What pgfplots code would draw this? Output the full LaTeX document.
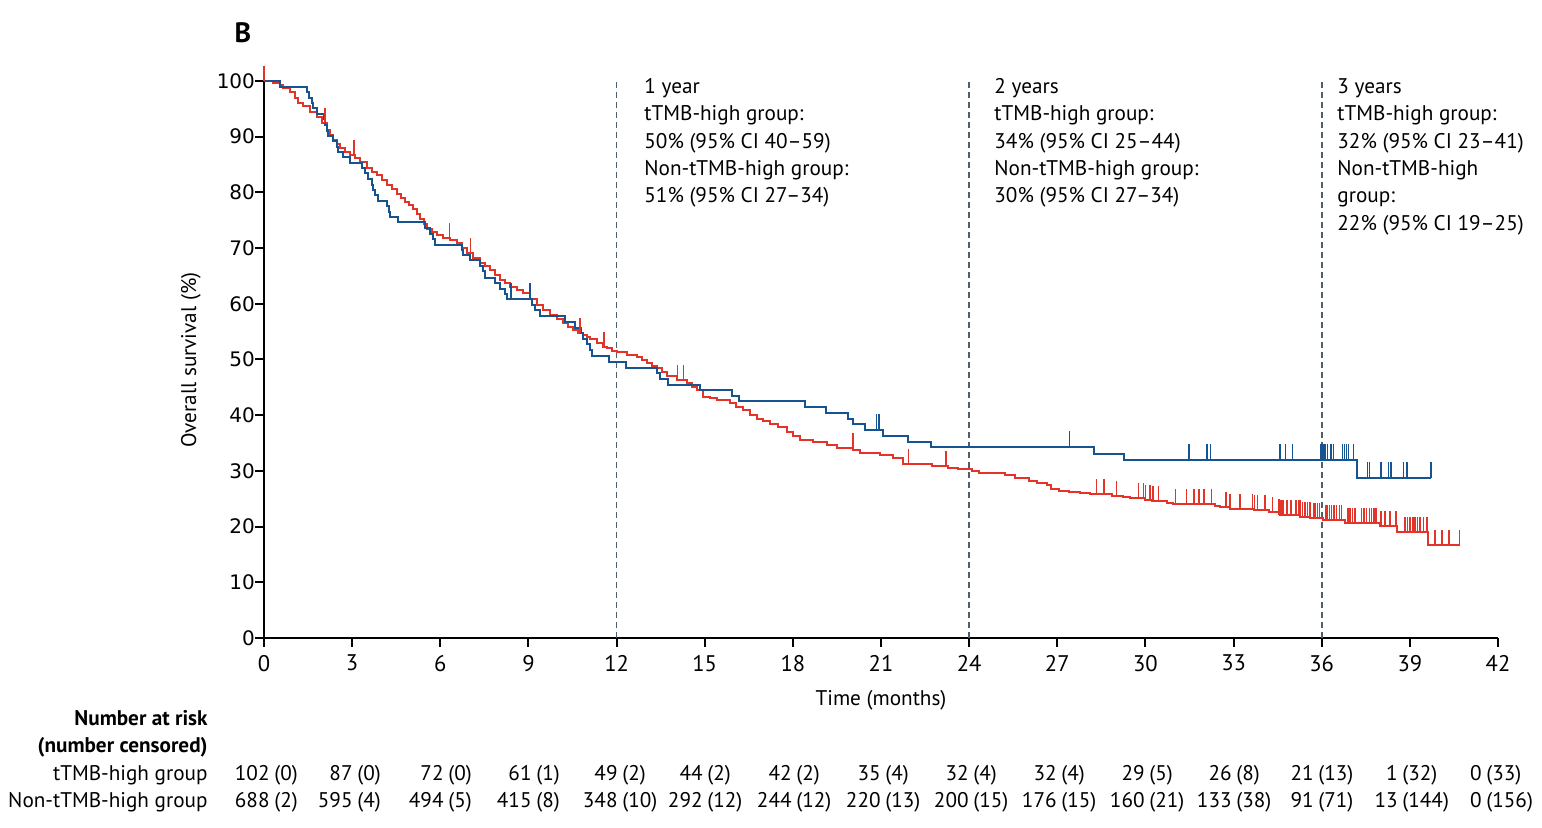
\documentclass[border=0pt]{standalone}
\usepackage{pgfplots}
\pgfplotsset{compat=1.18}
\usepackage{fontspec}
\setmainfont{PT Sans}
\newfontfamily\dejavu{DejaVu Sans}
\definecolor{kmblue}{RGB}{22,84,145}
\definecolor{kmred}{RGB}{228,52,42}
\definecolor{dashgrey}{RGB}{80,94,104}
\pgfdeclareplotmark{censr}{\pgfpathmoveto{\pgfpointorigin}\pgfpathlineto{\pgfpoint{0pt}{7.5pt}}\pgfusepathqstroke}
\pgfdeclareplotmark{censb}{\pgfpathmoveto{\pgfpointorigin}\pgfpathlineto{\pgfpoint{0pt}{8pt}}\pgfusepathqstroke}
\begin{document}
\begin{tikzpicture}
\path[use as bounding box] (0pt,0pt) rectangle (771pt,414pt);
\begin{axis}[
  at={(132pt,95pt)}, anchor=south west,
  scale only axis, width=617pt, height=278.5pt,
  xmin=0, xmax=42, ymin=0, ymax=100,
  axis x line=bottom, axis y line=left,
  axis line style={-, line width=1pt, black},
  xtick={0,3,...,42}, ytick={0,10,...,100},
  tick align=outside, major tick length=4.5pt,
  tick style={line width=1pt, black},
  /pgf/number format/assume math mode=true,
  xticklabel style={font=\fontsize{11.3}{12}\selectfont, yshift=-0.5pt},
  yticklabel style={font=\dejavu\fontsize{10}{11}\selectfont, xshift=3.5pt},
  clip=false,
]
% dashed landmark lines
\addplot[dashgrey, line width=0.9pt, dash pattern=on 3pt off 2pt] coordinates {(12,0) (12,100.5)};
\addplot[dashgrey, line width=0.9pt, dash pattern=on 3pt off 2pt] coordinates {(24,0) (24,100.5)};
\addplot[dashgrey, line width=0.9pt, dash pattern=on 3pt off 2pt] coordinates {(36,0) (36,100.5)};
% Non-tTMB-high group (red)
\addplot[kmred, line width=1pt, const plot, mark=none] coordinates {
(0,100) (0.3,99.6) (0.54,99.3) (0.66,98.7) (0.88,98.1) (1.06,96.9) (1.17,96.0) (1.34,95.5)
(1.57,94.5) (1.79,93.6) (1.96,92.4) (2.13,91.2) (2.25,90.3) (2.36,89.4) (2.48,88.6) (2.59,87.9)
(2.75,87.3) (2.93,86.7) (3.10,86.1) (3.27,85.5) (3.50,84.3) (3.67,83.7) (3.84,83.1) (4.01,82.2)
(4.18,81.3) (4.35,80.6) (4.52,79.8) (4.66,79.0) (4.80,78.3) (4.94,77.7) (5.08,77.1) (5.20,76.2)
(5.31,75.3) (5.43,74.4) (5.54,73.5) (5.71,72.9) (5.88,72.4) (6.10,71.9) (6.33,71.5) (6.56,70.9)
(6.73,70.0) (6.90,69.1) (7.12,68.2) (7.35,67.3) (7.52,66.7) (7.69,66.1) (7.86,65.2) (8.03,64.3)
(8.20,63.7) (8.37,63.1) (8.60,62.5) (8.83,61.9) (9.05,60.8) (9.28,59.8) (9.50,58.9) (9.73,58.0)
(9.96,57.2) (10.19,56.5) (10.36,55.9) (10.53,55.3) (10.70,54.8) (10.87,54.4) (10.98,54.1) (11.10,53.6)
(11.32,52.9) (11.55,52.3) (11.66,52.0) (11.83,51.6) (12.0,51.3) (12.35,50.8) (12.69,50.5) (12.85,49.9)
(13.03,49.3) (13.20,48.8) (13.37,48.4) (13.54,47.7) (13.71,47.0) (14.05,46.4) (14.39,45.7) (14.56,45.1)
(14.73,44.5) (14.95,43.3) (15.18,43.0) (15.41,42.7) (15.86,42.1) (16.08,41.5) (16.31,40.9) (16.54,40.1)
(16.77,39.4) (17.00,38.9) (17.22,38.5) (17.50,37.8) (17.79,37.0) (18.00,36.3) (18.24,35.5) (18.70,35.2)
(19.15,34.6) (19.49,34.1) (20.06,33.8) (20.29,33.2) (20.97,32.9) (21.42,32.3) (21.76,31.2) (22.73,30.9)
(23.27,30.6) (23.61,30.3) (24.08,30.0) (24.35,29.7) (25.23,29.3) (25.57,28.8) (26.04,28.2) (26.31,27.9)
(26.65,27.5) (26.79,26.7) (27.06,26.4) (27.40,26.2) (27.77,26.1) (27.86,26.0) (28.11,25.8) (28.85,25.5)
(29.25,25.4) (29.48,25.2) (29.59,25.1) (29.99,24.8) (30.22,24.6) (30.75,24.3) (30.95,24.0) (32.37,23.7)
(32.54,23.5) (32.88,23.2) (33.68,23.0) (34.19,22.7) (34.53,22.3) (34.58,22.0) (35.27,21.7) (35.61,21.5)
(36.06,21.2) (36.57,21.1) (36.80,20.7) (37.99,20.1) (38.55,19.0) (39.63,16.7) (40.69,16.7)
};
\addplot[kmred, line width=0.75pt, only marks, mark=censr] coordinates {
(0,100) (2.08,92.4) (3.06,86.7) (6.31,71.9) (7.03,69.1) (10.76,54.8) (11.57,52.3) (14.07,46.4) (14.27,46.4)
(20.04,34.1) (21.93,31.2) (23.21,30.9) (28.34,25.8) (28.59,25.8) (29.02,25.5) (29.76,25.1) (29.93,25.1)
(30.00,24.8) (30.16,24.8) (30.25,24.6) (30.45,24.6) (31.03,24.0) (31.40,24.0) (31.65,24.0) (31.83,24.0)
(31.99,24.0) (32.25,24.0) (32.74,23.5) (32.88,23.2) (33.22,23.2) (33.65,23.2) (33.71,23.0) (33.82,23.0)
(34.07,23.0) (34.32,22.7) (34.55,22.3) (34.62,22.0) (34.69,22.0) (34.81,22.0) (34.95,22.0) (35.12,22.0)
(35.21,22.0) (35.26,22.0) (35.35,21.7) (35.43,21.7) (35.51,21.7) (35.60,21.7) (35.72,21.5) (35.77,21.5)
(35.85,21.5) (35.92,21.5) (36.14,21.2) (36.19,21.2) (36.26,21.2) (36.34,21.2) (36.42,21.2) (36.51,21.2)
(36.60,21.1) (36.68,21.1) (36.89,20.7) (36.96,20.7) (37.04,20.7) (37.13,20.7) (37.36,20.7) (37.44,20.7)
(37.53,20.7) (37.62,20.7) (37.70,20.7) (37.78,20.7) (37.85,20.7) (38.01,20.1) (38.16,20.1) (38.33,20.1)
(38.53,20.1) (38.84,19.0) (38.92,19.0) (39.01,19.0) (39.10,19.0) (39.18,19.0) (39.26,19.0) (39.35,19.0)
(39.46,19.0) (39.58,19.0) (39.86,16.7) (40.09,16.7) (40.34,16.7) (40.69,16.7)
};
% tTMB-high group (blue)
\addplot[kmblue, line width=1pt, const plot, mark=none] coordinates {
(0,100) (0.54,99.0) (1.45,98.0) (1.54,97.0) (1.62,96.0) (1.68,95.1) (1.79,94.1) (2.04,93.1)
(2.08,92.1) (2.13,91.1) (2.19,90.2) (2.36,89.2) (2.47,88.2) (2.53,87.3) (2.70,86.3) (2.93,85.3)
(3.32,84.4) (3.44,83.4) (3.55,82.4) (3.66,81.4) (3.72,80.4) (3.78,79.5) (3.89,78.5) (4.18,77.5)
(4.24,76.5) (4.29,75.6) (4.57,74.6) (5.48,73.6) (5.65,72.6) (5.76,71.6) (5.82,70.6) (6.73,69.7)
(6.78,68.7) (7.01,67.8) (7.35,66.8) (7.47,65.8) (7.52,64.7) (7.86,63.7) (8.03,62.7) (8.20,61.8)
(8.26,60.8) (9.11,59.8) (9.22,58.9) (9.39,57.8) (10.25,56.8) (10.59,55.7) (10.80,54.7) (10.87,53.7)
(10.98,52.7) (11.10,51.7) (11.18,50.6) (11.75,49.6) (12.32,48.5) (13.39,47.5) (13.48,46.5) (13.76,45.5)
(14.84,44.5) (15.94,43.5) (16.17,42.5) (18.41,41.4) (19.13,40.4) (19.89,39.4) (20.06,38.4) (20.46,37.4)
(21.08,36.3) (21.93,35.2) (22.70,34.2) (28.25,33.1) (29.27,32.0) (37.21,28.7) (39.72,28.7)
};
\addplot[kmblue, line width=0.75pt, only marks, mark=censb] coordinates {
(8.41,60.8) (9.05,60.8) (20.85,37.4) (20.94,37.4) (27.42,34.2) (31.49,32.0) (32.09,32.0) (32.22,32.0)
(34.58,32.0) (34.77,32.0) (35.00,32.0) (35.97,32.0) (36.05,32.0) (36.12,32.0) (36.19,32.0) (36.31,32.0)
(36.40,32.0) (36.71,32.0) (36.77,32.0) (36.85,32.0) (36.91,32.0) (37.08,32.0) (37.56,28.7) (37.63,28.7)
(38.01,28.7) (38.27,28.7) (38.35,28.7) (38.78,28.7) (38.90,28.7) (39.72,28.7)
};
\end{axis}
\begin{scope}[x=0.5pt,y=0.5pt, every node/.style={inner sep=0pt, font=\fontsize{10.6}{13}\selectfont}]
% panel letter
\node[anchor=base] at (243,828-43) {\fontsize{14}{16}\selectfont\bfseries B};
% axis labels
\node[rotate=90, anchor=center] at (191,828-360) {Overall survival (\%)};
\node[anchor=base] at (881,828-706) {Time (months)};
% annotations
\foreach \t [count=\i from 0] in {1 year, tTMB-high group:, 50\% (95\% CI 40–59), Non-tTMB-high group:, 51\% (95\% CI 27–34)}
  \node[anchor=base west] at (644,828-93.3-27.4*\i) {\t};
\foreach \t [count=\i from 0] in {2 years, tTMB-high group:, 34\% (95\% CI 25–44), Non-tTMB-high group:, 30\% (95\% CI 27–34)}
  \node[anchor=base west] at (994,828-93.3-27.4*\i) {\t};
\foreach \t [count=\i from 0] in {3 years, tTMB-high group:, 32\% (95\% CI 23–41), Non-tTMB-high, group:, 22\% (95\% CI 19–25)}
  \node[anchor=base west] at (1337,828-93.3-27.4*\i) {\t};
% number at risk
\node[anchor=base east] at (208,828-726) {\bfseries Number at risk};
\node[anchor=base east] at (208,828-753) {\bfseries (number censored)};
\node[anchor=base east] at (208,828-781) {tTMB-high group};
\node[anchor=base east] at (208,828-808) {Non-tTMB-high group};
\foreach \X/\a/\b/\c/\d in {270/102/0/688/2, 353/87/0/595/4, 444/72/0/494/5, 532/61/1/415/8,
  618/49/2/348/10, 703/44/2/292/12, 792/42/2/244/12, 881/35/4/220/13, 969/32/4/200/15,
  1057/32/4/176/15, 1145/29/5/160/21, 1232/26/8/133/38, 1314/21/13/91/71, 1398/1/32/13/144, 1482/0/33/0/156} {
  \node[anchor=base east] at (\X,828-781) {\a};
  \node[anchor=base west] at (\X+4,828-781) {(\b)};
  \node[anchor=base east] at (\X,828-808) {\c};
  \node[anchor=base west] at (\X+4,828-808) {(\d)};
}
\end{scope}
\end{tikzpicture}
\end{document}
